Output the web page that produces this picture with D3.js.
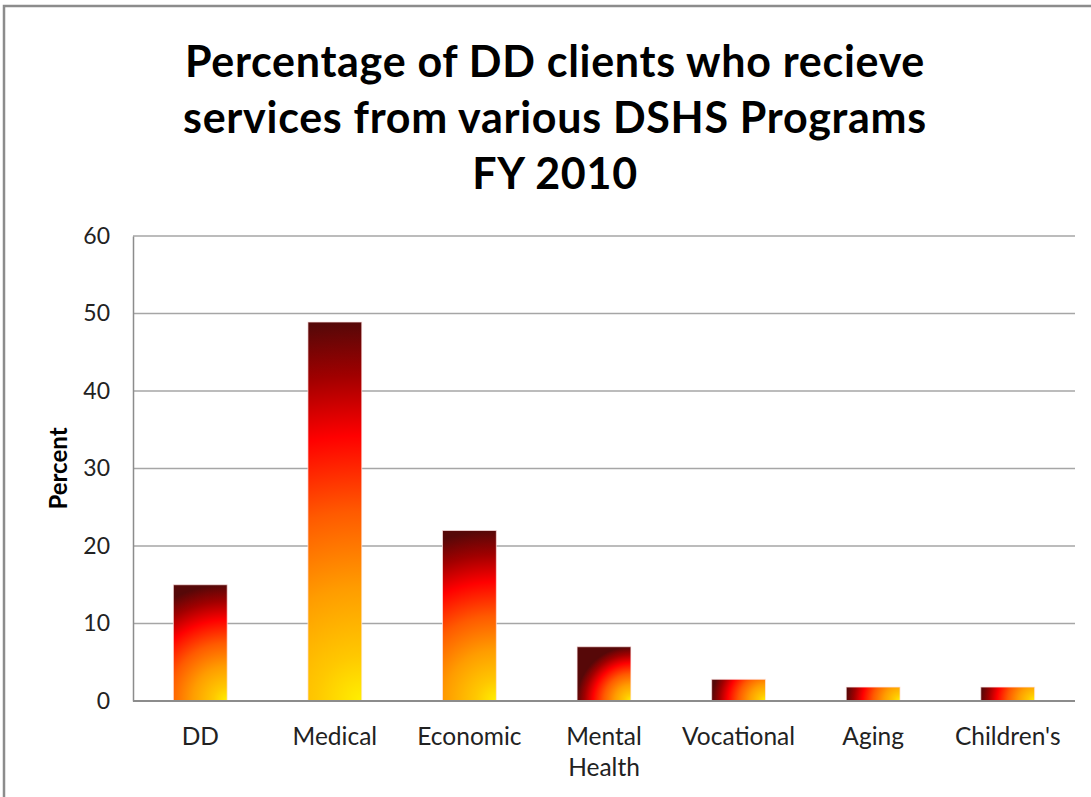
<!DOCTYPE html>
<html>
<head>
<meta charset="utf-8">
<script src="https://cdn.jsdelivr.net/npm/d3@7/dist/d3.min.js"></script>
<style>
  html, body { margin: 0; padding: 0; background: #fff; }
  svg { display: block; }
  text { font-family: "Lato", "Noto Sans", sans-serif; }
</style>
</head>
<body>
<svg id="chart" width="1091" height="797"></svg>
<script>
const categories = ["DD", "Medical", "Economic", "Mental Health", "Vocational", "Aging", "Children's"];
const values = [15, 48.9, 22, 7, 2.8, 1.8, 1.8];
const yTicks = [0, 10, 20, 30, 40, 50, 60];
const titleLines = ["Percentage of DD clients who recieve", "services from various DSHS Programs", "FY 2010"];
const yLabel = "Percent";

const svg = d3.select("#chart");
const W = 1091, H = 797;
const m = { left: 133, right: 1075, top: 236, bottom: 701 };

// outer frame
svg.append("rect")
  .attr("x", 4).attr("y", 6)
  .attr("width", W + 20).attr("height", H + 20)
  .attr("fill", "#fff").attr("stroke", "#8c8c8c").attr("stroke-width", 2.5);

const x = d3.scaleBand().domain(categories).range([m.left, m.right])
  .paddingInner(0.6).paddingOuter(0.3);
const y = d3.scaleLinear().domain([0, 60]).range([m.bottom, m.top]);

// gridlines
svg.append("g").selectAll("line").data(yTicks.filter(d => d > 0)).join("line")
  .attr("x1", m.left).attr("x2", m.right)
  .attr("y1", d => y(d)).attr("y2", d => y(d))
  .attr("stroke", "#a6a6a6").attr("stroke-width", 1.5);

// y axis
const yAxis = svg.append("g").attr("transform", `translate(${m.left},0)`)
  .call(d3.axisLeft(y).tickValues(yTicks).tickSize(0).tickPadding(23));
yAxis.select(".domain").attr("stroke", "#8c8c8c").attr("stroke-width", 1.5);
yAxis.selectAll("text").attr("font-size", 23).attr("fill", "#222")
  .style("font-family", '"Lato", sans-serif');

// gradients
const defs = svg.append("defs");
const stops = [
  [0, "#fff000"], [0.12, "#ffc800"], [0.3, "#ff9c00"], [0.5, "#ff5a00"],
  [0.7, "#ff0000"], [0.86, "#a00000"], [1, "#560808"]
];
categories.forEach((c, i) => {
  const bx = x(c), bw = x.bandwidth();
  const by = y(values[i]), bh = y(0) - y(values[i]);
  const g = defs.append("radialGradient").attr("id", "g" + i)
    .attr("gradientUnits", "userSpaceOnUse")
    .attr("cx", bx + bw).attr("cy", by + bh)
    .attr("fx", bx + bw).attr("fy", by + bh)
    .attr("r", Math.max(bw, bh));
  stops.forEach(s => g.append("stop").attr("offset", s[0]).attr("stop-color", s[1]));
});

// bars
svg.append("g").selectAll("rect").data(categories).join("rect")
  .attr("x", d => x(d)).attr("width", x.bandwidth())
  .attr("y", (d, i) => y(values[i]))
  .attr("height", (d, i) => y(0) - y(values[i]))
  .attr("fill", (d, i) => `url(#g${i})`)
  .attr("stroke", "rgba(255,230,230,0.7)").attr("stroke-width", 1);

// baseline
svg.append("line").attr("x1", m.left).attr("x2", m.right)
  .attr("y1", y(0)).attr("y2", y(0))
  .attr("stroke", "#8c8c8c").attr("stroke-width", 2);

// x axis labels
const xl = svg.append("g");
categories.forEach(c => {
  const words = c === "Mental Health" ? ["Mental", "Health"] : [c];
  const t = xl.append("text").attr("text-anchor", "middle")
    .attr("font-size", 24.5).attr("fill", "#222")
    .attr("x", x(c) + x.bandwidth() / 2).attr("y", 745);
  words.forEach((w, k) => t.append("tspan").attr("x", x(c) + x.bandwidth() / 2)
    .attr("dy", k === 0 ? 0 : 31).text(w));
});

// y label
svg.append("text").attr("transform", `translate(67,${(m.top + m.bottom) / 2}) rotate(-90)`)
  .attr("text-anchor", "middle").attr("font-size", 24).attr("font-weight", "bold")
  .attr("fill", "#000").text(yLabel);

// title
const tt = svg.append("text").attr("text-anchor", "middle")
  .attr("font-size", 43).attr("font-weight", "bold").attr("fill", "#000")
  .attr("letter-spacing", 0.7);
titleLines.forEach((l, k) => tt.append("tspan").attr("x", 555).attr("y", 77 + k * 56).text(l));
</script>
</body>
</html>
